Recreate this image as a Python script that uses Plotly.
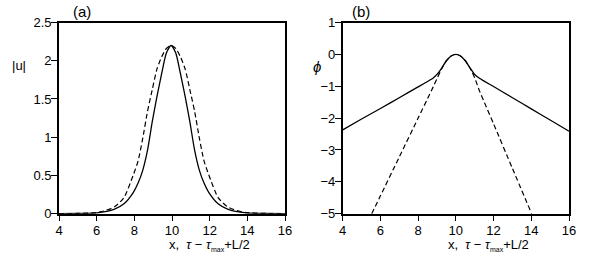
import plotly.graph_objects as go

# ---- data ----
# panel (a): |u|
xa_solid = [4, 5, 6, 6.95, 7.45, 7.95, 8.2, 8.45, 8.7, 8.95, 9.2, 9.45, 9.7, 9.95,
            10.2, 10.45, 10.7, 10.95, 11.2, 11.45, 11.7, 11.95, 12.45, 12.95, 13.95, 15, 16]
ua_solid = [0.001, 0.003, 0.01, 0.06, 0.13, 0.28, 0.40, 0.57, 0.83, 1.2, 1.53, 1.83, 2.1, 2.2,
            2.1, 1.83, 1.53, 1.2, 0.83, 0.57, 0.40, 0.28, 0.13, 0.06, 0.01, 0.003, 0.001]
xa_dash = [4, 5, 5.95, 6.45, 6.95, 7.45, 7.95, 8.2, 8.45, 8.7, 8.95, 9.2, 9.45, 9.7, 9.95,
           10.2, 10.45, 10.7, 10.95, 11.2, 11.45, 11.7, 11.95, 12.45, 12.95, 13.45, 13.95, 15, 16]
ua_dash = [0.001, 0.003, 0.015, 0.04, 0.09, 0.21, 0.51, 0.69, 0.99, 1.34, 1.62, 1.89, 2.05, 2.16, 2.2,
           2.16, 2.05, 1.89, 1.62, 1.34, 0.99, 0.69, 0.51, 0.21, 0.09, 0.04, 0.015, 0.003, 0.001]

# panel (b): phi
xb_solid = [4, 5, 6, 7, 8, 8.5, 8.8, 9.0, 9.25, 9.5, 9.75, 10, 10.25, 10.5, 10.75, 11.0,
            11.25, 11.5, 12, 13, 14, 15, 16]
pb_solid = [-2.37, -2.03, -1.70, -1.36, -1.02, -0.85, -0.74, -0.63, -0.43, -0.20, -0.05, 0,
            -0.05, -0.20, -0.42, -0.63, -0.75, -0.84, -1.01, -1.36, -1.71, -2.06, -2.41]
xb_dash = [5.54, 6, 7, 8, 8.5, 8.8, 9.0, 9.25, 9.5, 9.75, 10, 10.25, 10.5, 10.75, 11.0,
           11.25, 11.5, 12, 13, 14.02]
pb_dash = [-5.0, -4.44, -3.22, -2.0, -1.39, -1.02, -0.76, -0.45, -0.20, -0.05, 0,
           -0.05, -0.20, -0.43, -0.74, -1.14, -1.49, -2.18, -3.58, -5.0]

xticks = [4, 6, 8, 10, 12, 14, 16]
ya_ticks = [0, 0.5, 1, 1.5, 2, 2.5]
ya_labels = ["0", "0.5", "1", "1.5", "2", "2.5"]
yb_ticks = [-5, -4, -3, -2, -1, 0, 1]

FONT = "Liberation Sans, Arial, sans-serif"
line_solid = dict(color="black", width=1.3, shape="spline", smoothing=0.6)
line_dash = dict(color="black", width=1.2, dash="5px,3px", shape="spline", smoothing=0.6)

fig = go.Figure()
fig.add_trace(go.Scatter(x=xa_solid, y=ua_solid, mode="lines", line=line_solid, xaxis="x", yaxis="y"))
fig.add_trace(go.Scatter(x=xa_dash, y=ua_dash, mode="lines", line=line_dash, xaxis="x", yaxis="y"))
fig.add_trace(go.Scatter(x=xb_solid, y=pb_solid, mode="lines", line=line_solid, xaxis="x2", yaxis="y2"))
fig.add_trace(go.Scatter(x=xb_dash, y=pb_dash, mode="lines", line=line_dash, xaxis="x2", yaxis="y2"))

W, H = 599, 262
ydom = [(H - 213.7) / H, (H - 22.5) / H]
axis_common = dict(showline=True, linecolor="black", linewidth=1.6, mirror=True,
                   ticks="outside", tickwidth=1.4, tickcolor="black",
                   showgrid=False, zeroline=False, automargin=False,
                   tickfont=dict(family=FONT, size=13, color="black"))
xax = dict(ticklen=5, ticklabelstandoff=-1, **axis_common)
yax = dict(ticklen=6, ticklabelstandoff=-3, **axis_common)

fig.update_layout(
    width=W, height=H,
    margin=dict(l=0, r=0, t=0, b=0, pad=0, autoexpand=False),
    paper_bgcolor="white", plot_bgcolor="white",
    showlegend=False,
    xaxis=dict(domain=[59 / W, 285 / W], range=[4, 16], tickvals=xticks, anchor="y", **xax),
    yaxis=dict(domain=ydom, range=[0, 2.5], tickvals=ya_ticks, ticktext=ya_labels, anchor="x", **yax),
    xaxis2=dict(domain=[342.7 / W, 569 / W], range=[4, 16], tickvals=xticks, anchor="y2", **xax),
    yaxis2=dict(domain=ydom, range=[-5, 1], tickvals=yb_ticks, anchor="x2", **yax),
)

xtitle = "x,  <i>τ</i> − <i>τ</i><sub><span style='font-size:7px'>max</span></sub>+L/2"
ann = [
    dict(text="(a)", x=82 / W, y=(H - 12) / H, font=dict(size=15)),
    dict(text="(b)", x=361 / W, y=(H - 12) / H, font=dict(size=15)),
    dict(text="|u|", x=19 / W, y=(H - 65) / H, font=dict(size=13)),
    dict(text="<i>ϕ</i>", x=317 / W, y=(H - 66) / H, font=dict(size=15)),
    dict(text=xtitle, x=209 / W, y=(H - 245) / H, font=dict(size=13)),
    dict(text=xtitle, x=488 / W, y=(H - 245) / H, font=dict(size=13)),
]
for a in ann:
    a.update(xref="paper", yref="paper", showarrow=False, xanchor="center", yanchor="middle")
    a["font"].update(family=FONT, color="black")
fig.update_layout(annotations=ann)

fig.write_html("out.html", config={"displayModeBar": False},
               post_script="document.body.style.margin='0';")
